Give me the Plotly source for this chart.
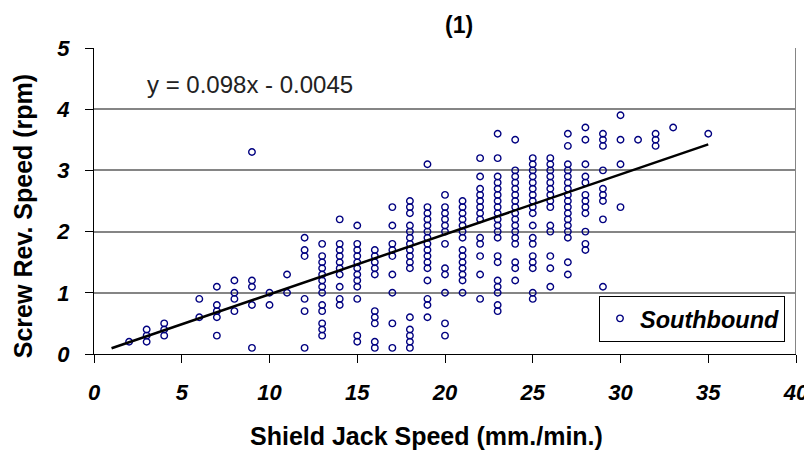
import plotly.graph_objects as go

# ---- data ----
jack_speed = (
    [2] + [3] * 3 + [4] * 3 + [6] * 2 + [7] * 5 + [8] * 4 + [9] * 5 + [10] * 2 + [11] * 2
    + [12] * 6 + [13] * 13 + [14] * 10 + [15] * 12 + [16] * 10 + [17] * 9 + [18] * 16
    + [19] * 16 + [20] * 12 + [21] * 14 + [22] * 13 + [23] * 20 + [24] * 17 + [25] * 18
    + [26] * 14 + [27] * 17 + [28] * 12 + [29] * 9 + [30] * 4 + [31] + [32] * 3 + [33] + [35]
)
screw_speed = (
    [0.2]
    + [0.4, 0.3, 0.2]
    + [0.5, 0.4, 0.3]
    + [0.9, 0.6]
    + [1.1, 0.8, 0.7, 0.6, 0.3]
    + [1.2, 1.0, 0.9, 0.7]
    + [3.3, 1.2, 1.1, 0.8, 0.1]
    + [1.0, 0.8]
    + [1.3, 1.0]
    + [1.9, 1.7, 1.6, 0.9, 0.7, 0.1]
    + [1.8, 1.6, 1.5, 1.4, 1.3, 1.2, 1.1, 1.0, 0.8, 0.7, 0.5, 0.4, 0.3]
    + [2.2, 1.8, 1.7, 1.6, 1.5, 1.4, 1.3, 1.1, 0.9, 0.8]
    + [2.1, 1.8, 1.7, 1.6, 1.5, 1.4, 1.3, 1.2, 1.1, 0.9, 0.3, 0.2]
    + [1.7, 1.6, 1.5, 1.4, 1.3, 0.7, 0.6, 0.5, 0.2, 0.1]
    + [2.4, 2.1, 1.8, 1.7, 1.6, 1.3, 1.0, 0.5, 0.1]
    + [2.5, 2.4, 2.3, 2.1, 2.0, 1.9, 1.8, 1.7, 1.6, 1.5, 1.4, 0.6, 0.4, 0.3, 0.2, 0.1]
    + [3.1, 2.4, 2.3, 2.2, 2.1, 2.0, 1.9, 1.8, 1.7, 1.6, 1.5, 1.4, 1.2, 0.9, 0.8, 0.6]
    + [2.6, 2.4, 2.3, 2.2, 2.1, 2.0, 1.8, 1.4, 1.3, 1.0, 0.5, 0.3]
    + [2.5, 2.4, 2.3, 2.2, 2.1, 2.0, 1.9, 1.7, 1.6, 1.5, 1.4, 1.3, 1.2, 1.0]
    + [3.2, 2.9, 2.7, 2.6, 2.5, 2.4, 2.3, 2.2, 1.9, 1.8, 1.6, 1.3, 0.9]
    + [3.6, 3.2, 2.9, 2.8, 2.7, 2.6, 2.5, 2.4, 2.3, 2.2, 2.1, 2.0, 1.9, 1.6, 1.5, 1.2, 1.1, 1.0, 0.8, 0.7]
    + [3.5, 3.0, 2.9, 2.8, 2.7, 2.6, 2.5, 2.4, 2.3, 2.2, 2.1, 2.0, 1.9, 1.8, 1.5, 1.4, 1.2]
    + [3.2, 3.1, 3.0, 2.9, 2.8, 2.7, 2.6, 2.5, 2.4, 2.3, 2.1, 1.9, 1.8, 1.6, 1.5, 1.4, 1.0, 0.9]
    + [3.2, 3.1, 3.0, 2.9, 2.8, 2.7, 2.6, 2.5, 2.4, 2.1, 2.0, 1.6, 1.4, 1.1]
    + [3.6, 3.4, 3.1, 3.0, 2.9, 2.8, 2.7, 2.6, 2.5, 2.4, 2.3, 2.2, 2.1, 2.0, 1.9, 1.5, 1.3]
    + [3.7, 3.5, 3.1, 2.9, 2.8, 2.6, 2.5, 2.4, 2.3, 2.0, 1.8, 1.7]
    + [3.6, 3.5, 3.4, 3.0, 2.7, 2.6, 2.5, 2.2, 1.1]
    + [3.9, 3.5, 3.1, 2.4]
    + [3.5]
    + [3.6, 3.5, 3.4]
    + [3.7]
    + [3.6]
)

trend_slope = 0.098
trend_intercept = -0.0045
trend_x = [1, 35]
trend_y = [trend_slope * x + trend_intercept for x in trend_x]

x_ticks = [0, 5, 10, 15, 20, 25, 30, 35, 40]
y_ticks = [0, 1, 2, 3, 4, 5]

chart_title = "(1)"
x_title = "Shield Jack Speed (mm./min.)"
y_title = "Screw Rev. Speed (rpm)"
series_name = "Southbound"
equation = "y = 0.098x - 0.0045"

FONT = "Liberation Sans, Arial, sans-serif"

# plot area in page pixels (reference): x 94..796, y 48..354.5
PL, PR, PT, PB = 94, 796, 48, 354.5
PW, PH = PR - PL, PB - PT
OFF = 8  # page body margin


def px(x):
    return (x - PL) / PW


def py(y):
    return (PB - y) / PH


fig = go.Figure()
fig.add_trace(go.Scatter(
    x=jack_speed, y=screw_speed, mode="markers", name=series_name,
    marker=dict(symbol="circle-open", size=6.5, color="#000080", line=dict(width=1.4, color="#000080")),
    cliponaxis=False,
))
fig.add_trace(go.Scatter(
    x=trend_x, y=trend_y, mode="lines", showlegend=False,
    line=dict(color="black", width=2.5),
))

fig.update_layout(
    width=812 - OFF, height=453 - OFF,
    margin=dict(l=PL - OFF, r=812 - PR, t=PT - OFF, b=453 - PB),
    paper_bgcolor="white", plot_bgcolor="white",
    font=dict(family=FONT, color="black"),
    showlegend=True,
    legend=dict(
        x=px(599), y=py(296), xanchor="left", yanchor="top",
        bgcolor="white", bordercolor="black", borderwidth=1,
        font=dict(family=FONT, size=23.5, weight="bold", style="italic"),
        itemwidth=30,
    ),
    xaxis=dict(
        range=[0, 40], tickvals=x_ticks, ticktext=[str(v) for v in x_ticks],
        ticks="outside", ticklen=8, tickcolor="black",
        showline=True, linecolor="black", linewidth=1,
        showgrid=False, zeroline=False, automargin=False,
        tickfont=dict(family=FONT, size=22, weight="bold", style="italic"),
        ticklabelstandoff=11,
    ),
    yaxis=dict(
        range=[0, 5], tickvals=y_ticks, ticktext=[str(v) for v in y_ticks],
        ticks="outside", ticklen=8, tickcolor="black",
        showline=True, linecolor="black", linewidth=1,
        showgrid=True, gridcolor="#858585", gridwidth=2,
        zeroline=False, automargin=False,
        tickfont=dict(family=FONT, size=22, weight="bold", style="italic"),
        ticklabelstandoff=11,
    ),
    shapes=[dict(type="line", xref="x", yref="y", x0=40, x1=40, y0=0, y1=5,
                 line=dict(color="#858585", width=2))],
    annotations=[
        dict(text=chart_title, xref="paper", yref="paper", x=px(459), y=py(25),
             xanchor="center", yanchor="middle", showarrow=False,
             font=dict(family=FONT, size=23, weight="bold")),
        dict(text=x_title, xref="paper", yref="paper", x=px(426), y=py(437),
             xanchor="center", yanchor="middle", showarrow=False,
             font=dict(family=FONT, size=25, weight="bold")),
        dict(text=y_title, xref="paper", yref="paper", x=px(23), y=py(216.5),
             xanchor="center", yanchor="middle", showarrow=False, textangle=-90,
             font=dict(family=FONT, size=25, weight="bold")),
        dict(text=equation, xref="paper", yref="paper", x=px(145), y=py(85),
             xanchor="left", yanchor="middle", showarrow=False,
             font=dict(family=FONT, size=24, color="#222222")),
    ],
)

fig.write_html("out.html")
